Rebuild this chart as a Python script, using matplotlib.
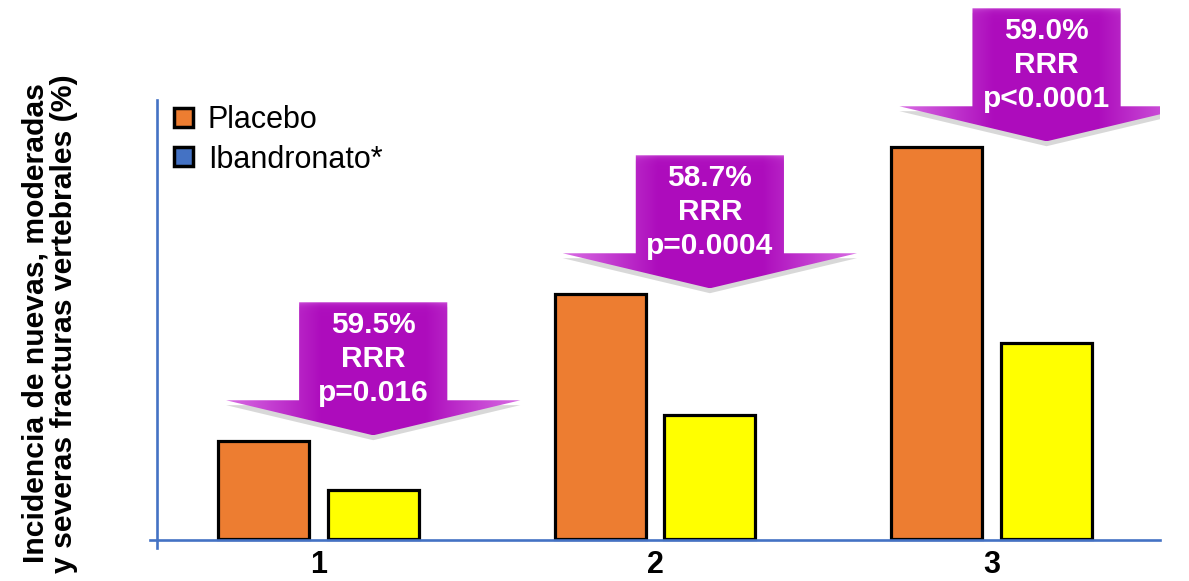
import numpy as np
import matplotlib.pyplot as plt
from matplotlib.patches import Patch, Polygon

plt.rcParams['font.family'] = ['Liberation Sans', 'DejaVu Sans']

years = ["1", "2", "3"]
placebo = [2.6, 6.5, 10.4]
ibandronato = [1.3, 3.3, 5.2]
rrr_labels = ["59.5%\nRRR\np=0.016", "58.7%\nRRR\np=0.0004", "59.0%\nRRR\np<0.0001"]

orange = "#ED7D31"
yellow = "#FFFF00"
blue = "#4472C4"

fig = plt.figure(figsize=(11.89, 5.81), dpi=100)
ax = fig.add_axes([150 / 1189, 33 / 581, 1010 / 1189, 548 / 581])

x = np.arange(len(years))
width = 0.27
off = 0.163

ax.bar(x - off, placebo, width, color=orange, edgecolor="black", linewidth=2.3, zorder=2)
ax.bar(x + off, ibandronato, width, color=yellow, edgecolor="black", linewidth=2.3, zorder=2)

ax.set_xlim(-0.5, 2.5)
ax.set_ylim(-0.24, 14.3)

for s in ["top", "right"]:
    ax.spines[s].set_visible(False)
ax.spines["left"].set_position(("data", -0.479))
ax.spines["left"].set_bounds(-0.24, 11.64)
ax.spines["bottom"].set_position(("data", -0.03))
for s in ["left", "bottom"]:
    ax.spines[s].set_color(blue)
    ax.spines[s].set_linewidth(1.9)
    ax.spines[s].set_zorder(3)

ax.set_yticks([])
ax.set_xticks(x, labels=years, fontsize=22, fontweight="bold")
ax.tick_params(axis="x", length=0, pad=7)

ax.set_ylabel("Incidencia de nuevas, moderadas\ny severas fracturas vertebrales (%)",
              fontsize=21.7, fontweight="bold", linespacing=1.05)
ax.yaxis.set_label_coords(-0.071, 0.41)

# legend (Ibandronato handle kept blue)
handles = [Patch(facecolor=orange, edgecolor="black", linewidth=2.5, label="Placebo"),
           Patch(facecolor=blue, edgecolor="black", linewidth=2.5, label="Ibandronato*")]
ax.legend(handles=handles, loc="upper left", bbox_to_anchor=(0.012, 0.83),
          frameon=False, fontsize=22, handlelength=0.6, handleheight=0.6,
          handletextpad=0.5, labelspacing=0.3, borderaxespad=0)


def rrr_arrow(xc, ytip, label):
    bw, ww = 0.22, 0.437
    hh, H = 0.93, 3.53
    verts = [(xc - bw, ytip + H), (xc + bw, ytip + H), (xc + bw, ytip + hh),
             (xc + ww, ytip + hh), (xc, ytip), (xc - ww, ytip + hh), (xc - bw, ytip + hh)]
    shadow = Polygon([(vx, vy - 0.13) for vx, vy in verts], closed=True,
                     facecolor="#808080", alpha=0.3, edgecolor="none", zorder=3)
    ax.add_patch(shadow)
    poly = Polygon(verts, closed=True, facecolor="none", edgecolor="none",
                   transform=ax.transData)
    ax.add_patch(poly)

    nu, nv = 200, 200
    u = np.linspace(-1, 1, nu)
    v = np.linspace(1, 0, nv)
    U, V = np.meshgrid(u, v)
    t = np.clip((np.abs(U) - 0.36) / 0.64, 0, 1) * 0.8
    t += 0.55 * np.exp(-(1 - V) / 0.02)
    t = np.clip(t, 0, 1)
    dark = np.array([0.68, 0.05, 0.74])
    light = np.array([0.89, 0.52, 0.93])
    img = dark[None, None, :] * (1 - t[..., None]) + light[None, None, :] * t[..., None]
    im = ax.imshow(img, extent=[xc - ww, xc + ww, ytip, ytip + H],
                   aspect="auto", interpolation="bilinear", zorder=4)
    im.set_clip_path(poly)

    ax.text(xc, ytip + 2.02, label, ha="center", va="center", color="white",
            fontsize=21.5, fontweight="bold", linespacing=1.27, zorder=5)


for i in range(len(years)):
    rrr_arrow(x[i] + off, placebo[i] + 0.15, rrr_labels[i])

ax.set_xlim(-0.5, 2.5)
ax.set_ylim(-0.24, 14.3)

fig.savefig("out.png", dpi=100)
